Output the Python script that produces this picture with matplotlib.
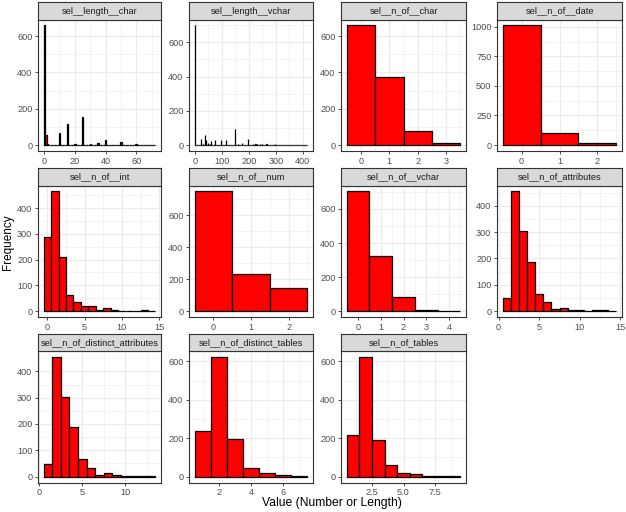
import numpy as np
import matplotlib.pyplot as plt

plt.rcParams["font.family"] = ["Liberation Sans", "DejaVu Sans"]

FIG_W, FIG_H = 626, 512

# ---- data: counts per integer value (binwidth = 1) ----
length_char_values = [0, 1, 2, 5, 10, 12, 15, 20, 25, 28, 30, 35, 40, 45, 50, 55, 60, 65, 72]
length_char_counts = [658, 57, 3, 2, 68, 2, 117, 8, 156, 2, 3, 9, 26, 2, 19, 1, 4, 1, 1]

length_vchar_values = [0, 10, 23, 30, 37, 42, 49, 55, 61, 76, 98, 115, 130, 149, 160, 176,
                       196, 216, 225, 230, 240, 250, 265, 296, 347, 416]
length_vchar_counts = [698, 3, 33, 5, 56, 27, 12, 5, 25, 27, 29, 29, 3, 91, 4, 12,
                       37, 5, 4, 6, 5, 6, 4, 5, 3, 1]

n_of_char_values = [0, 1, 2, 3]
n_of_char_counts = [659, 376, 79, 9]

n_of_date_values = [0, 1, 2]
n_of_date_counts = [1012, 102, 14]

n_of_int_values = list(range(0, 15))
n_of_int_counts = [287, 465, 210, 61, 37, 20, 20, 5, 12, 5, 2, 2, 1, 3, 1]

n_of_num_values = [0, 1, 2]
n_of_num_counts = [748, 233, 144]

n_of_vchar_values = [0, 1, 2, 3, 4]
n_of_vchar_counts = [703, 325, 83, 8, 1]

n_of_attributes_values = list(range(1, 15))
n_of_attributes_counts = [49, 455, 303, 185, 65, 33, 8, 12, 4, 2, 1, 2, 3, 1]

n_of_distinct_attributes_values = list(range(1, 14))
n_of_distinct_attributes_counts = [48, 455, 303, 187, 67, 32, 7, 12, 6, 3, 1, 1, 3]

n_of_distinct_tables_values = [1, 2, 3, 4, 5, 6, 7]
n_of_distinct_tables_counts = [239, 623, 193, 42, 19, 8, 2]

n_of_tables_values = [1, 2, 3, 4, 5, 6, 7, 8, 9]
n_of_tables_counts = [218, 623, 191, 58, 19, 11, 2, 4, 2]

panel_titles = ["sel__length__char", "sel__length__vchar", "sel__n_of__char", "sel__n_of__date",
                "sel__n_of__int", "sel__n_of__num", "sel__n_of__vchar", "sel__n_of_attributes",
                "sel__n_of_distinct_attributes", "sel__n_of_distinct_tables", "sel__n_of_tables"]

panel_data = [
    (length_char_values, length_char_counts),
    (length_vchar_values, length_vchar_counts),
    (n_of_char_values, n_of_char_counts),
    (n_of_date_values, n_of_date_counts),
    (n_of_int_values, n_of_int_counts),
    (n_of_num_values, n_of_num_counts),
    (n_of_vchar_values, n_of_vchar_counts),
    (n_of_attributes_values, n_of_attributes_counts),
    (n_of_distinct_attributes_values, n_of_distinct_attributes_counts),
    (n_of_distinct_tables_values, n_of_distinct_tables_counts),
    (n_of_tables_values, n_of_tables_counts),
]

x_ticks = [[0, 20, 40, 60], [0, 100, 200, 300, 400], [0, 1, 2, 3], [0, 1, 2],
           [0, 5, 10, 15], [0, 1, 2], [0, 1, 2, 3, 4], [0, 5, 10, 15],
           [0, 5, 10], [2, 4, 6], [2.5, 5.0, 7.5]]
x_tick_labels = [["0", "20", "40", "60"], ["0", "100", "200", "300", "400"],
                 ["0", "1", "2", "3"], ["0", "1", "2"], ["0", "5", "10", "15"],
                 ["0", "1", "2"], ["0", "1", "2", "3", "4"], ["0", "5", "10", "15"],
                 ["0", "5", "10"], ["2", "4", "6"], ["2.5", "5.0", "7.5"]]
y_ticks = [[0, 200, 400, 600], [0, 200, 400, 600], [0, 200, 400, 600],
           [0, 250, 500, 750, 1000], [0, 100, 200, 300, 400], [0, 200, 400, 600],
           [0, 200, 400, 600], [0, 100, 200, 300, 400], [0, 100, 200, 300, 400],
           [0, 200, 400, 600], [0, 200, 400, 600]]

# ---- layout (pixels, top-origin) ----
col_left = [38, 189, 341, 497]
col_right = [161, 313, 466, 622]
strip_top = [2, 168, 333.5]
strip_h = 17.5
panel_bottom = [151, 317, 482.5]

GRID = "#EBEBEB"
DARK = "#333333"
TICK_TXT = "#4D4D4D"


def px_rect(left, top, right, bottom):
    return [left / FIG_W, 1 - bottom / FIG_H, (right - left) / FIG_W, (bottom - top) / FIG_H]


def minor_breaks(major, lo, hi):
    step = major[1] - major[0]
    cand = [major[0] - step / 2] + [(a + b) / 2 for a, b in zip(major[:-1], major[1:])] + [major[-1] + step / 2]
    return [m for m in cand if lo <= m <= hi]


def draw_panel(fig, idx):
    r, c = divmod(idx, 4)
    values, counts = panel_data[idx]
    # full set of bins from min to max, zero bins included (ggplot draws their outline)
    bins = np.arange(values[0], values[-1] + 1)
    full = np.zeros(len(bins))
    for v, n in zip(values, counts):
        full[v - values[0]] = n

    left, right = col_left[c], col_right[c]
    top = strip_top[r] + strip_h
    bottom = panel_bottom[r]

    ax = fig.add_axes(px_rect(left, top, right, bottom))
    x0, x1 = bins[0] - 0.5, bins[-1] + 0.5
    xr = x1 - x0
    xlo, xhi = x0 - 0.05 * xr, x1 + 0.05 * xr
    ymax = full.max()
    ylo, yhi = -0.05 * ymax, 1.05 * ymax

    ax.set_xlim(xlo, xhi)
    ax.set_ylim(ylo, yhi)

    for m in minor_breaks(x_ticks[idx], xlo, xhi):
        ax.axvline(m, color=GRID, lw=0.4, zorder=0)
    for m in minor_breaks(y_ticks[idx], ylo, yhi):
        ax.axhline(m, color=GRID, lw=0.4, zorder=0)
    for m in x_ticks[idx]:
        ax.axvline(m, color=GRID, lw=0.8, zorder=0)
    for m in y_ticks[idx]:
        ax.axhline(m, color=GRID, lw=0.8, zorder=0)

    ax.bar(bins, full, width=1.0, color="red", edgecolor="black", linewidth=0.9, zorder=2)

    ax.set_xticks(x_ticks[idx])
    ax.set_xticklabels(x_tick_labels[idx])
    ax.set_yticks(y_ticks[idx])
    ax.set_yticklabels([str(t) for t in y_ticks[idx]])
    ax.tick_params(axis="both", length=2.5, width=0.6, color=DARK, labelsize=6.6,
                   labelcolor=TICK_TXT, pad=1.5)
    for s in ax.spines.values():
        s.set_color(DARK)
        s.set_linewidth(0.8)
    ax.set_facecolor("white")

    sax = fig.add_axes(px_rect(left, strip_top[r], right, top))
    sax.set_facecolor("#D9D9D9")
    sax.set_xticks([])
    sax.set_yticks([])
    for s in sax.spines.values():
        s.set_color(DARK)
        s.set_linewidth(0.8)
    sax.text(0.5, 0.48, panel_titles[idx], ha="center", va="center", fontsize=6.7,
             color="#1A1A1A", transform=sax.transAxes)


def main():
    fig = plt.figure(figsize=(FIG_W / 100, FIG_H / 100), dpi=100)
    for i in range(len(panel_titles)):
        draw_panel(fig, i)

    fig.text(332 / FIG_W, 1 - 503 / FIG_H, "Value (Number or Length)", ha="center", va="center",
             fontsize=8.7)
    fig.text(8 / FIG_W, 1 - 242 / FIG_H, "Frequency", ha="center", va="center",
             rotation=90, fontsize=8.5)

    fig.savefig("out.png", dpi=100)


if __name__ == "__main__":
    main()
